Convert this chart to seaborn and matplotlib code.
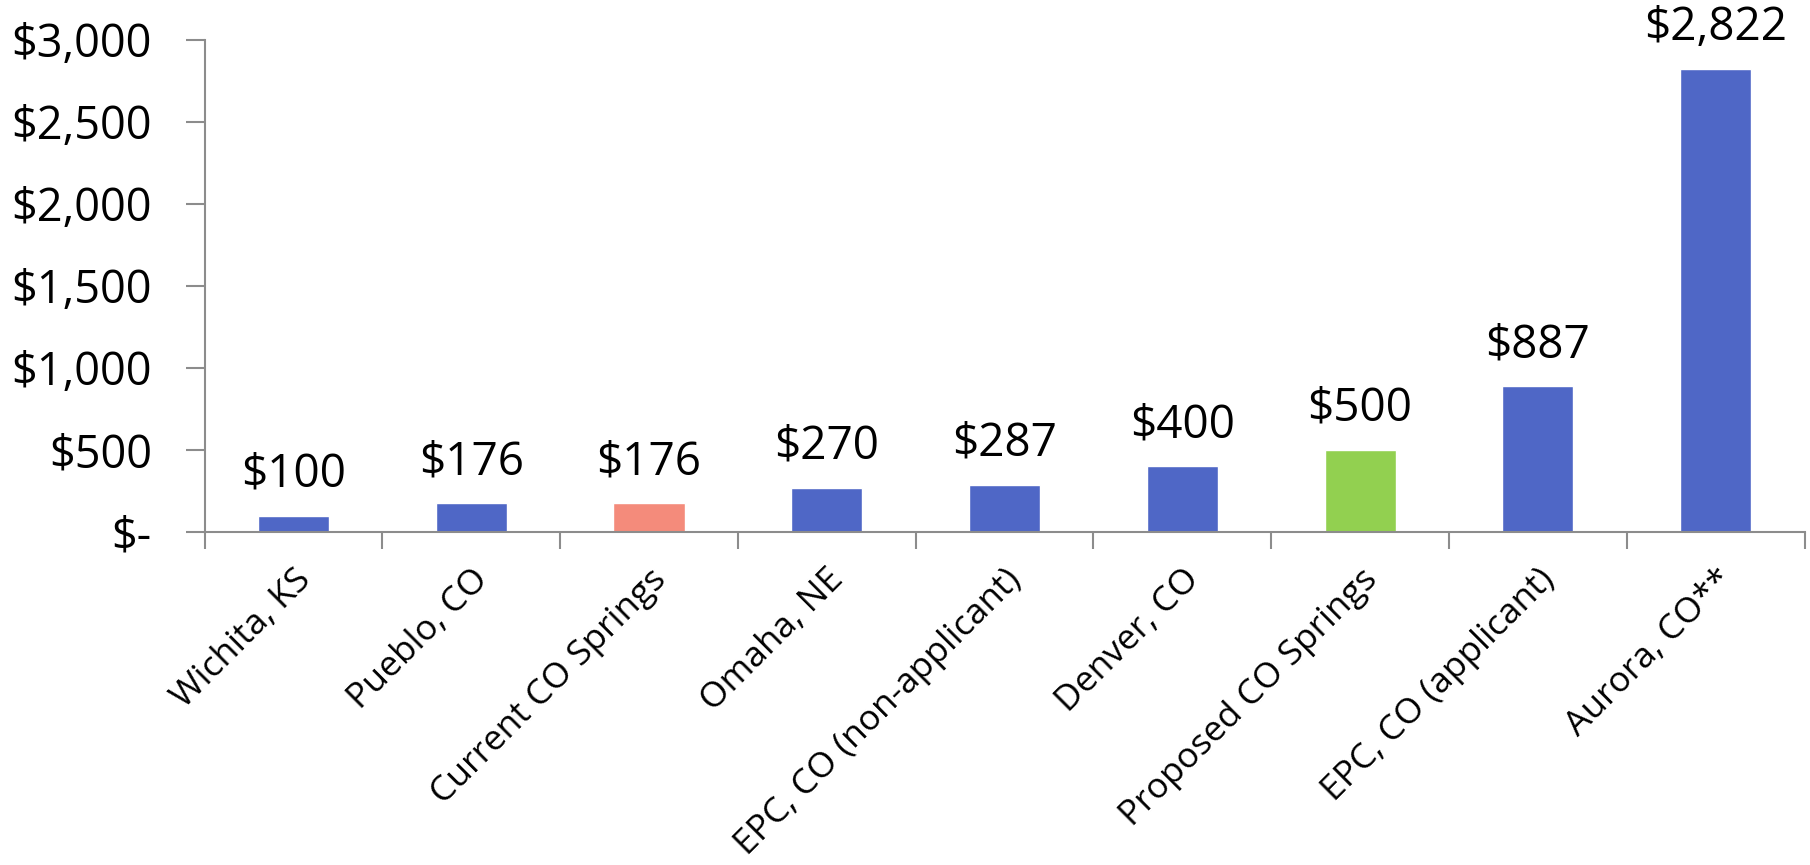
import matplotlib
matplotlib.use("Agg")
import matplotlib.pyplot as plt
import seaborn as sns
import pandas as pd
from matplotlib.ticker import FuncFormatter, FixedLocator

categories = ["Wichita, KS", "Pueblo, CO", "Current CO Springs", "Omaha, NE",
              "EPC, CO (non-applicant)", "Denver, CO", "Proposed CO Springs",
              "EPC, CO (applicant)", "Aurora, CO**"]
values = [100, 176, 176, 270, 287, 400, 500, 887, 2822]
BLUE, SALMON, GREEN = "#4F67C6", "#F48B7B", "#92D050"
bar_colors = [BLUE, BLUE, SALMON, BLUE, BLUE, BLUE, GREEN, BLUE, BLUE]
y_ticks = [0, 500, 1000, 1500, 2000, 2500, 3000]

sns.set_theme(style="white")
plt.rcParams["font.family"] = ["Open Sans", "DejaVu Sans"]
plt.rcParams["text.color"] = "black"
plt.rcParams["xtick.labelcolor"] = "black"
plt.rcParams["ytick.labelcolor"] = "black"

df = pd.DataFrame({"cat": categories, "val": values})
fig = plt.figure(figsize=(18.10, 8.65), dpi=100)
ax = fig.add_axes([0.113, 0.385, 0.884, 0.569])

sns.barplot(data=df, x="cat", y="val", hue="cat", palette=bar_colors,
            legend=False, width=0.4, ax=ax, saturation=1)

ax.set_ylim(0, 3000)
ax.set_xlim(-0.5, len(categories) - 0.5)
ax.yaxis.set_major_locator(FixedLocator(y_ticks))

def fmt(v, pos):
    return "$-" if v == 0 else f"${v:,.0f}"
ax.yaxis.set_major_formatter(FuncFormatter(fmt))

ax.set_xlabel("")
ax.set_ylabel("")
for s in ["top", "right"]:
    ax.spines[s].set_visible(False)
for s in ["left", "bottom"]:
    ax.spines[s].set_color("#8C8C8C")
    ax.spines[s].set_linewidth(1.5)

# x ticks at category boundaries, labels centred on bars
ax.set_xticks([i + 0.5 for i in range(-1, len(categories))], minor=False)
ax.set_xticklabels([])
ax.set_xticks(range(len(categories)), minor=True)
ax.set_xticklabels(categories, minor=True, rotation=45, ha="right",
                   rotation_mode="anchor", fontsize=25.5, color="black")
ax.tick_params(axis="x", which="major", direction="out", length=12,
               width=1.5, color="#8C8C8C", bottom=True)
ax.tick_params(axis="x", which="minor", length=0, pad=22)
ax.tick_params(axis="y", direction="out", length=14, width=1.5,
               color="#8C8C8C", left=True, labelsize=32.5, pad=24,
               labelcolor="black")

for i, v in enumerate(values):
    ax.annotate(f"${v:,.0f}", (i, v), xytext=(0, 13), textcoords="offset points",
                ha="center", va="bottom", fontsize=33, color="black",
                annotation_clip=False)

fig.savefig("out.png", dpi=100, facecolor="white")
